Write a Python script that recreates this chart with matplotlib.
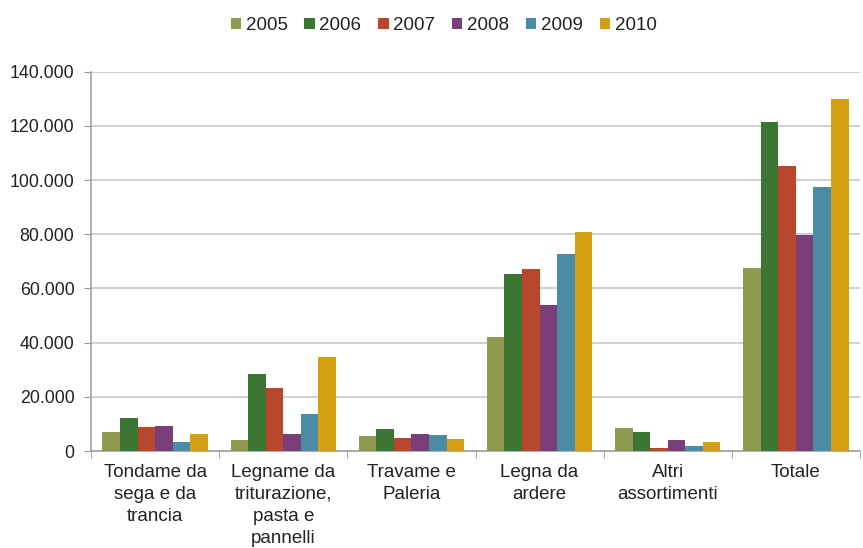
import matplotlib
matplotlib.use('Agg')
import matplotlib.pyplot as plt
from matplotlib.ticker import FuncFormatter
import numpy as np

plt.rcParams['font.family'] = ['Liberation Sans', 'DejaVu Sans']

categorie = ['Tondame da\nsega e da\ntrancia', 'Legname da\ntriturazione,\npasta e\npannelli',
             'Travame e\nPaleria', 'Legna da\nardere', 'Altri\nassortimenti', 'Totale']
anni = ['2005', '2006', '2007', '2008', '2009', '2010']

v2005 = [7100, 4000, 5500, 42200, 8400, 67500]
v2006 = [12300, 28400, 8300, 65400, 6900, 121300]
v2007 = [8700, 23300, 4900, 67200, 1200, 105400]
v2008 = [9300, 6400, 6100, 53900, 4100, 79800]
v2009 = [3500, 13500, 5900, 72700, 2000, 97300]
v2010 = [6200, 34700, 4300, 81000, 3300, 129900]

colori = ['#8f9a4e', '#3d7634', '#b8472d', '#7a3f78', '#4a8ca6', '#d3a10f']
serie = [v2005, v2006, v2007, v2008, v2009, v2010]

fig = plt.figure(figsize=(8.63, 5.48), dpi=100)
ax = fig.add_axes([0.1055, 0.177, 0.891, 0.692])

x = np.arange(len(categorie))
w = 0.137
for i, (vals, c, a) in enumerate(zip(serie, colori, anni)):
    ax.bar(x + (i - 2.5) * w, vals, w, color=c, label=a, zorder=3)

ax.set_xlim(-0.5, len(categorie) - 0.5)
ax.set_ylim(0, 140000)
ax.set_yticks(np.arange(0, 140001, 20000))
ax.yaxis.set_major_formatter(FuncFormatter(lambda v, p: '0' if v == 0 else f'{int(v):,}'.replace(',', '.')))
ax.grid(axis='y', color='#c8c8c8', linewidth=1.2, zorder=0)

ax.set_xticks(x)
ax.set_xticklabels(categorie, fontsize=13.5, va='top', linespacing=1.4, color='#222222')
ax.set_xticks(np.arange(-0.5, len(categorie)), minor=True)
ax.tick_params(axis='x', which='major', length=0, pad=9)
ax.tick_params(axis='x', which='minor', length=5, color='#999999')
ax.tick_params(axis='y', labelsize=12.8, length=5, color='#999999', pad=7, labelcolor='#222222')

for s in ['top', 'right']:
    ax.spines[s].set_visible(False)
for s in ['left', 'bottom']:
    ax.spines[s].set_color('#a0a0a0')
    ax.spines[s].set_linewidth(1.2)

fig.legend(loc='upper center', bbox_to_anchor=(0.514, 1.0), ncol=6, frameon=False,
           fontsize=13.5, handlelength=0.55, handleheight=0.55, handletextpad=0.25,
           columnspacing=0.9, labelcolor='#222222')

fig.savefig('out.png', dpi=100, facecolor='white')
